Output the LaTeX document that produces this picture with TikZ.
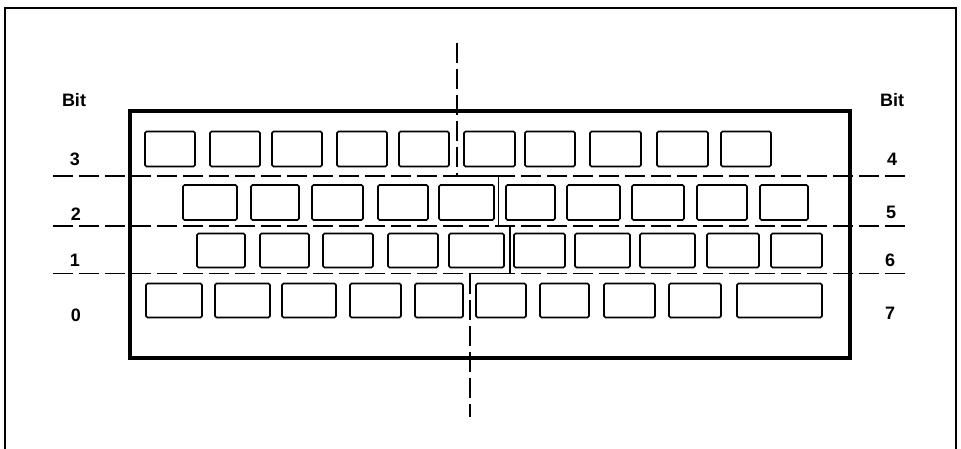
\documentclass[tikz,border=0pt]{standalone}
\usepackage{fontspec}
\setmainfont{Liberation Sans}
\begin{document}
\begin{tikzpicture}[x=1pt,y=-1pt,
  keyb/.style={draw=black,line width=1.6pt,rounded corners=1.5pt,inner sep=0pt,outer sep=0pt},
  board/.style={draw=black,line width=3.2pt},
  frameline/.style={draw=black,line width=2pt},
  divline/.style={draw=black,line width=1.4pt,dash pattern=on 20pt off 6pt},
  stepline/.style={draw=black,line width=1.3pt},
  lab/.style={font=\fontsize{18}{21}\selectfont\bfseries,inner sep=0pt}]
\useasboundingbox (0,0) rectangle (961,448);
% outer frame (open at the bottom)
\draw[frameline] (5,460) -- (5,8) -- (956,8) -- (956,460);
% keyboard outline
\node[board,inner sep=0pt,minimum width=720pt,minimum height=247pt] (kbd) at (490,234.5) {};
% keys
\foreach \a/\b [count=\i] in {145/195,210/260,272/322,337/387,399/449,464/515,525/575,590/641,657/708,721/771}
  \node[keyb,minimum width={(\b-\a)*1pt},minimum height=35pt] (rthree\i) at ({(\a+\b)/2},149) {};
\foreach \a/\b [count=\i] in {183/237,251/299,312/363,378/428,439/494,506/555,567/620,632/684,697/747,760/808}
  \node[keyb,minimum width={(\b-\a)*1pt},minimum height=35pt] (rtwo\i) at ({(\a+\b)/2},202.5) {};
\foreach \a/\b [count=\i] in {197/245,260/309,323/373,388/438,449/504,514/565,575/630,640/695,707/759,771/822}
  \node[keyb,minimum width={(\b-\a)*1pt},minimum height=34pt] (rone\i) at ({(\a+\b)/2},250.5) {};
\foreach \a/\b [count=\i] in {146/202,215/270,282/336,350/401,415/463,476/526,540/589,604/655,669/721,737/822}
  \node[keyb,minimum width={(\b-\a)*1pt},minimum height=34pt] (rzero\i) at ({(\a+\b)/2},300.5) {};
% row dividers
\coordinate (la) at (53,176);   \coordinate (ra) at (910,176);
\coordinate (lb) at (53,226);   \coordinate (rb) at (910,226);
\coordinate (lc) at (53,273.5); \coordinate (rc) at (910,273.5);
\draw[divline] (la) -- (ra);
\draw[divline] (lb) -- (rb);
\draw[divline] (lc) -- (rc);
% left/right half divider
\coordinate (ctop) at (457,43);
\coordinate (sa) at (457,176);
\coordinate (sb) at (498.5,176);
\coordinate (sc) at (498.5,226);
\coordinate (sd) at (510,226);
\coordinate (se) at (510,273.5);
\coordinate (sf) at (470,273.5);
\coordinate (cbot) at (470,417);
\draw[divline] (ctop) -- (sa);
\draw[stepline] (sa) -- (sb) -- (sc) -- (sd) -- (se) -- (sf);
\draw[divline] (sf) -- (cbot);
% labels
\node[lab] (bitl) at (74,100) {Bit};
\node[lab] (bitr) at (892,100) {Bit};
\node[lab] (b3) at (75,159) {3};
\node[lab] (b2) at (76,214) {2};
\node[lab] (b1) at (75,260) {1};
\node[lab] (b0) at (76,315) {0};
\node[lab] (b4) at (892,159) {4};
\node[lab] (b5) at (891,212) {5};
\node[lab] (b6) at (890,260) {6};
\node[lab] (b7) at (890,313) {7};
\end{tikzpicture}
\end{document}
